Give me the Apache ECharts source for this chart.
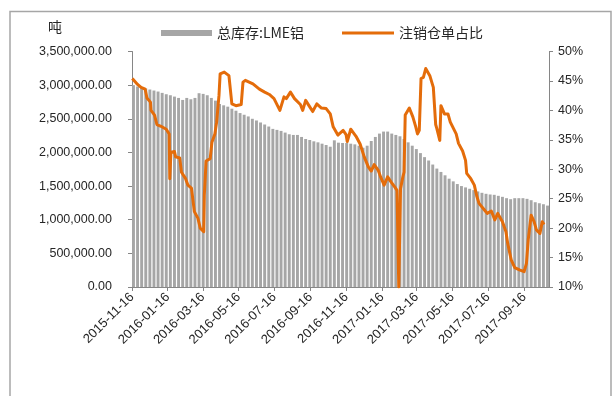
<!DOCTYPE html>
<html>
<head>
<meta charset="utf-8">
<script src="https://cdn.jsdelivr.net/npm/echarts@6/dist/echarts.min.js"></script>
<style>
  html, body { margin: 0; padding: 0; background: #fff; }
  #chart { width: 612px; height: 396px; }
</style>
</head>
<body>
<div id="chart"></div>
<script>
// LME aluminium total stocks (tonnes), one value per trading week, weeks starting Monday
const stockWeekStart = '2015-11-16';
const stockValues = [
  3000000, 2980000, 2965000, 2950000, 2935000, 2920000, 2905000, 2885000, 2865000, 2850000,
  2830000, 2810000, 2780000, 2810000, 2790000, 2810000, 2880000, 2870000, 2850000, 2810000,
  2770000, 2720000, 2700000, 2680000, 2650000, 2620000, 2585000, 2560000, 2535000, 2500000,
  2475000, 2445000, 2415000, 2385000, 2350000, 2335000, 2320000, 2295000, 2270000, 2260000,
  2260000, 2230000, 2200000, 2185000, 2165000, 2150000, 2130000, 2110000, 2085000, 2180000,
  2145000, 2140000, 2140000, 2130000, 2120000, 2100000, 2070000, 2100000, 2170000, 2230000,
  2280000, 2310000, 2310000, 2280000, 2260000, 2240000, 2200000, 2150000, 2100000, 2050000,
  1990000, 1930000, 1880000, 1820000, 1760000, 1710000, 1660000, 1610000, 1570000, 1530000,
  1500000, 1480000, 1460000, 1440000, 1420000, 1400000, 1385000, 1375000, 1370000, 1355000,
  1340000, 1320000, 1305000, 1320000, 1320000, 1320000, 1310000, 1290000, 1260000, 1245000,
  1230000, 1210000
];

// Cancelled warrants as a share of stocks (%)
const ratioDates = [
  '2015-11-16','2015-11-25','2015-12-01','2015-12-08','2015-12-11','2015-12-17','2015-12-18','2015-12-24',
  '2015-12-28','2016-01-04','2016-01-13','2016-01-18','2016-01-19','2016-01-21','2016-01-27','2016-01-29',
  '2016-02-05','2016-02-08','2016-02-15','2016-02-19','2016-02-25','2016-03-01','2016-03-07','2016-03-11',
  '2016-03-17','2016-03-18','2016-03-21','2016-03-28','2016-03-31','2016-04-05','2016-04-08','2016-04-12',
  '2016-04-14','2016-04-21','2016-04-29','2016-05-04','2016-05-11','2016-05-20','2016-05-23','2016-05-27',
  '2016-06-09','2016-06-20','2016-06-29','2016-07-07','2016-07-15','2016-07-25','2016-08-01','2016-08-05',
  '2016-08-12','2016-08-19','2016-08-29','2016-09-02','2016-09-07','2016-09-14','2016-09-19','2016-09-26',
  '2016-10-04','2016-10-12','2016-10-19','2016-10-24','2016-11-01','2016-11-10','2016-11-15','2016-11-17',
  '2016-11-23','2016-12-02','2016-12-09','2016-12-16','2016-12-23','2016-12-28','2017-01-02','2017-01-09',
  '2017-01-13','2017-01-19','2017-01-25','2017-01-31','2017-02-06','2017-02-10','2017-02-13','2017-02-16',
  '2017-02-20','2017-02-22','2017-02-24','2017-03-03','2017-03-09','2017-03-14','2017-03-17','2017-03-20',
  '2017-03-23','2017-03-27','2017-03-31','2017-04-07','2017-04-13','2017-04-17','2017-04-19','2017-04-24',
  '2017-04-26','2017-05-02','2017-05-08','2017-05-12','2017-05-22','2017-05-26','2017-06-02','2017-06-07',
  '2017-06-09','2017-06-16','2017-06-22','2017-06-26','2017-06-30','2017-07-10','2017-07-14','2017-07-21',
  '2017-07-27','2017-08-01','2017-08-09','2017-08-15','2017-08-18','2017-08-24','2017-08-30','2017-09-07',
  '2017-09-15','2017-09-19','2017-09-22','2017-09-27','2017-10-02','2017-10-06','2017-10-12','2017-10-16',
  '2017-10-19'
];
const ratioValues = [
  45.4, 44.4, 43.9, 43.6, 42.1, 41.4, 40.0, 39.2,
  37.6, 37.3, 36.8, 36.0, 28.4, 32.9, 33.0, 32.1,
  31.9, 29.5, 28.4, 27.3, 26.8, 22.8, 21.7, 20.0,
  19.4, 25.6, 31.4, 31.8, 34.6, 36.0, 38.0, 42.5,
  46.2, 46.5, 45.9, 41.1, 40.8, 41.0, 44.8, 45.1,
  44.5, 43.6, 43.1, 42.7, 42.0, 40.0, 42.3, 42.0,
  43.1, 42.0, 41.0, 40.0, 41.7, 40.6, 39.8, 41.1,
  40.4, 40.3, 39.4, 37.2, 35.8, 36.6, 35.9, 34.7,
  36.8, 35.6, 34.3, 32.1, 30.4, 29.7, 30.8, 29.8,
  28.7, 27.3, 28.7, 27.8, 27.0, 26.4, 10.0, 26.7,
  28.7, 29.5, 39.2, 40.4, 38.9, 37.2, 36.0, 36.6,
  45.4, 45.6, 47.1, 45.9, 43.9, 37.6, 36.9, 34.9,
  40.8, 39.4, 39.4, 38.0, 36.0, 34.4, 33.1, 31.5,
  29.3, 28.4, 27.3, 25.5, 24.2, 23.0, 22.5, 22.9,
  21.4, 22.5, 21.1, 19.4, 17.4, 14.6, 13.3, 12.9,
  12.6, 14.0, 18.0, 22.2, 21.1, 19.7, 19.1, 21.1,
  20.6
];

// Date axis: two-month label spacing
const tickLabels = [
  '2015-11-16','2016-01-16','2016-03-16','2016-05-16','2016-07-16','2016-09-16',
  '2016-11-16','2017-01-16','2017-03-16','2017-05-16','2017-07-16','2017-09-16'
];
const axisStart = '2015-11-16';
const axisEnd = '2017-10-28';

// the x axis counts days from axisStart
const DAY = 86400000;
function dayNo(s) {
  const p = s.split('-').map(Number);
  return Math.round((Date.UTC(p[0], p[1] - 1, p[2]) - Date.UTC(2015, 10, 16)) / DAY);
}

const dMin = dayNo(axisStart);
const dMax = dayNo(axisEnd);
const tickDays = tickLabels.map(dayNo);
const labelByDay = {};
tickLabels.forEach((l, i) => { labelByDay[tickDays[i]] = l; });

// weekly bars cover Monday..Friday, so centre them mid-week
const stockData = stockValues.map((v, i) => [dayNo(stockWeekStart) + i * 7 + 2.5, v]);
const ratioData = ratioValues.map((v, i) => [dayNo(ratioDates[i]) + 0.5, v]);

const gridLeft = 132, gridRight = 63, gridTop = 51.5, gridBottom = 109;
const plotWidth = 612 - gridLeft - gridRight;
const barPx = plotWidth * 5 / (dMax - dMin);

const axisColor = '#868686';
const textColor = '#262626';
const latin = '"Liberation Sans", Arial, sans-serif';
const cjk = '"Noto Sans CJK SC", "Liberation Sans", sans-serif';
const legendText = { fontFamily: cjk, fontSize: 14, color: textColor };

const chart = echarts.init(document.getElementById('chart'), null, { renderer: 'canvas' });
chart.setOption({
  animation: false,
  backgroundColor: '#fff',
  grid: { left: gridLeft, right: gridRight, top: gridTop, bottom: gridBottom, containLabel: false },
  legend: [
    {
      left: 156, top: 21,
      itemWidth: 51, itemHeight: 6,
      textStyle: legendText,
      data: [{ name: '总库存:LME铝', icon: 'rect' }]
    },
    {
      left: 337, top: 21,
      itemWidth: 52, itemHeight: 3,
      textStyle: legendText,
      data: [{ name: '注销仓单占比', icon: 'rect' }]
    }
  ],
  xAxis: {
    type: 'value',
    min: dMin,
    max: dMax,
    axisLine: { show: true, onZero: false, lineStyle: { color: axisColor, width: 1 } },
    axisTick: { show: true, length: 4, lineStyle: { color: axisColor }, customValues: tickDays },
    axisLabel: {
      customValues: tickDays,
      rotate: 45,
      margin: 8,
      fontFamily: latin,
      fontSize: 13,
      color: textColor,
      formatter: v => labelByDay[v] || ''
    },
    splitLine: { show: false }
  },
  yAxis: [
    {
      type: 'value',
      min: 0, max: 3500000, interval: 500000,
      axisLine: { show: true, lineStyle: { color: axisColor } },
      axisTick: { show: true, length: 4, lineStyle: { color: axisColor } },
      axisLabel: {
        margin: 20,
        fontFamily: latin, fontSize: 12.5, color: textColor,
        formatter: v => v.toLocaleString('en-US', { minimumFractionDigits: 2, maximumFractionDigits: 2 })
      },
      splitLine: { show: false }
    },
    {
      type: 'value',
      min: 10, max: 50, interval: 5,
      axisLine: { show: true, lineStyle: { color: axisColor } },
      axisTick: { show: true, length: 4, lineStyle: { color: axisColor } },
      axisLabel: {
        margin: 9,
        fontFamily: latin, fontSize: 12.5, color: textColor,
        formatter: v => v + '%'
      },
      splitLine: { show: false }
    }
  ],
  graphic: [
    {
      type: 'rect',
      shape: { x: 10, y: 11.5, width: 601, height: 420 },
      style: { fill: 'none', stroke: '#a6a6a6', lineWidth: 1.5 },
      silent: true
    },
    {
      type: 'text',
      left: 48, top: 20,
      style: { text: '吨', font: '14px ' + cjk, fill: textColor }
    }
  ],
  series: [
    {
      name: '总库存:LME铝',
      type: 'bar',
      yAxisIndex: 0,
      barWidth: barPx,
      itemStyle: { color: '#a6a6a6' },
      data: stockData,
      z: 1
    },
    {
      name: '注销仓单占比',
      type: 'line',
      yAxisIndex: 1,
      symbol: 'none',
      lineStyle: { color: '#e46c0a', width: 3, join: 'round' },
      itemStyle: { color: '#e46c0a' },
      data: ratioData,
      z: 3
    }
  ]
});
</script>
</body>
</html>
